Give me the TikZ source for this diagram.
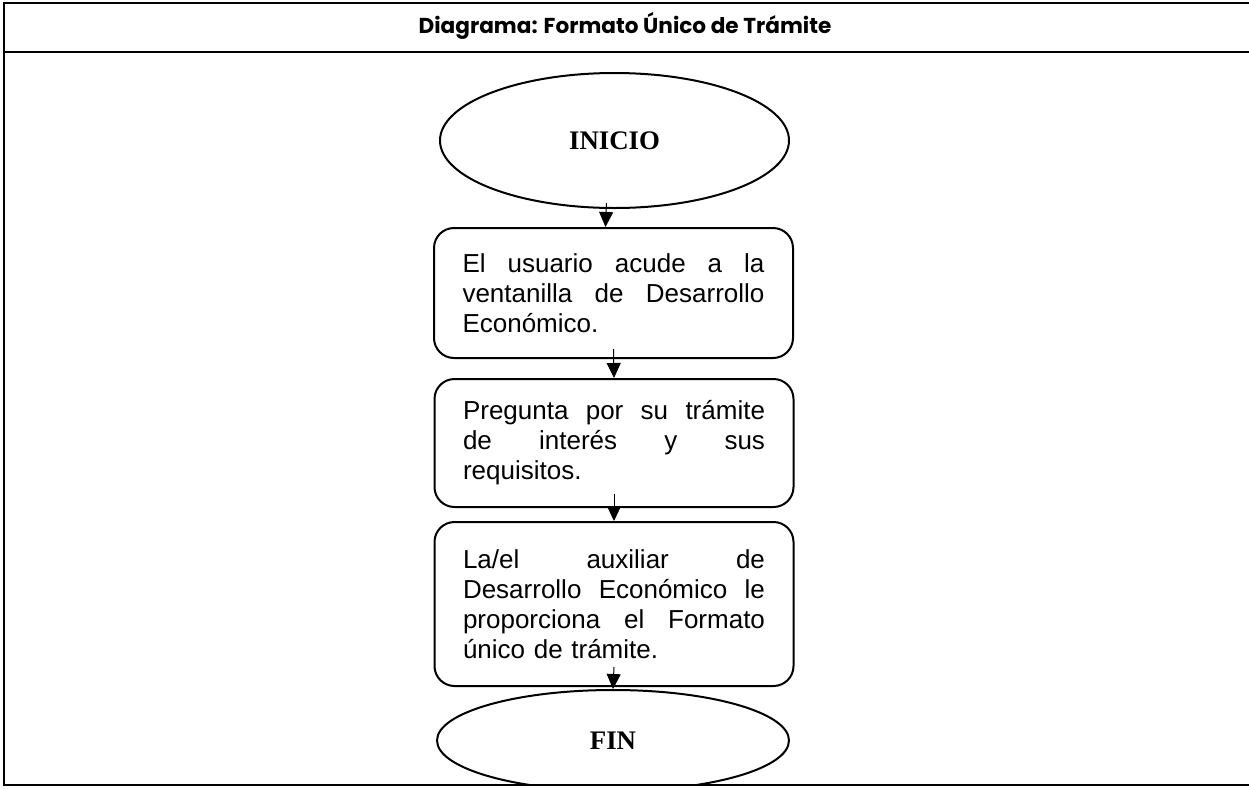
\documentclass[tikz,border=0pt]{standalone}
\usepackage{fontspec}
\setmainfont{Liberation Sans}
\newfontfamily\titulofont{Poppins}
\newfontfamily\timesfont{Liberation Serif}
\usetikzlibrary{shapes.geometric,arrows.meta}
\newcommand{\lineajust}[1]{\makebox[151pt][s]{\spaceskip=0pt\relax\xspaceskip=0pt\relax #1}}

\begin{document}
\begin{tikzpicture}[x=0.5pt,y=-0.5pt,
  paso/.style={draw, line width=1pt, rounded corners=10pt, text width=151pt, inner xsep=14.25pt, inner ysep=0pt, align=left, font=\fontsize{13}{15}\selectfont},
  terminal/.style={draw, ellipse, line width=1pt, inner sep=0pt, font=\timesfont\bfseries\fontsize{13.4}{15}\selectfont},
  flecha/.style={line width=0.5pt, -{Triangle[width=7pt,length=7.5pt]}}]
\useasboundingbox (0,0) rectangle (1249,788);
\node[font=\titulofont\bfseries\fontsize{10.8}{12}\selectfont] (titulo) at (625,26) {Diagrama: Formato Único de Trámite};
\node[terminal, minimum width=174.5pt, minimum height=67.5pt] (inicio) at (614.5,140.5) {INICIO};
\node[paso, minimum height=65pt] (paso1) at (613.5,293) {\lineajust{El usuario acude a la}\\ \lineajust{ventanilla de Desarrollo}\\ Económico.};
\node[paso, minimum height=64pt] (paso2) at (614,443) {\lineajust{Pregunta por su trámite}\\ \lineajust{de interés y sus}\\ requisitos.};
\node[paso, minimum height=82pt] (paso3) at (614,604) {\lineajust{La/el auxiliar de}\\ \lineajust{Desarrollo Económico le}\\ \lineajust{proporciona el Formato}\\ único de trámite.};
\begin{scope}
\clip (0,0) rectangle (1249,785);
\node[terminal, minimum width=176pt, minimum height=50.5pt] (fin) at (613,740.5) {FIN};
\end{scope}
% flechas
\draw[flecha] ([xshift=-4pt,yshift=3pt]inicio.south) -- ([xshift=-4pt]paso1.north);
\draw[flecha] ([yshift=5pt]paso1.south) -- (paso2.north);
\draw[flecha] ([yshift=7pt]paso2.south) -- (paso3.north);
\draw[flecha] ([yshift=10pt]paso3.south) -- (fin.north);
% marco
\draw[line width=1.25pt] (1249,3) -- (4,3) -- (4,785) -- (1249,785);
\draw[line width=1.25pt] (4,52) -- (1249,52);
\end{tikzpicture}
\end{document}
